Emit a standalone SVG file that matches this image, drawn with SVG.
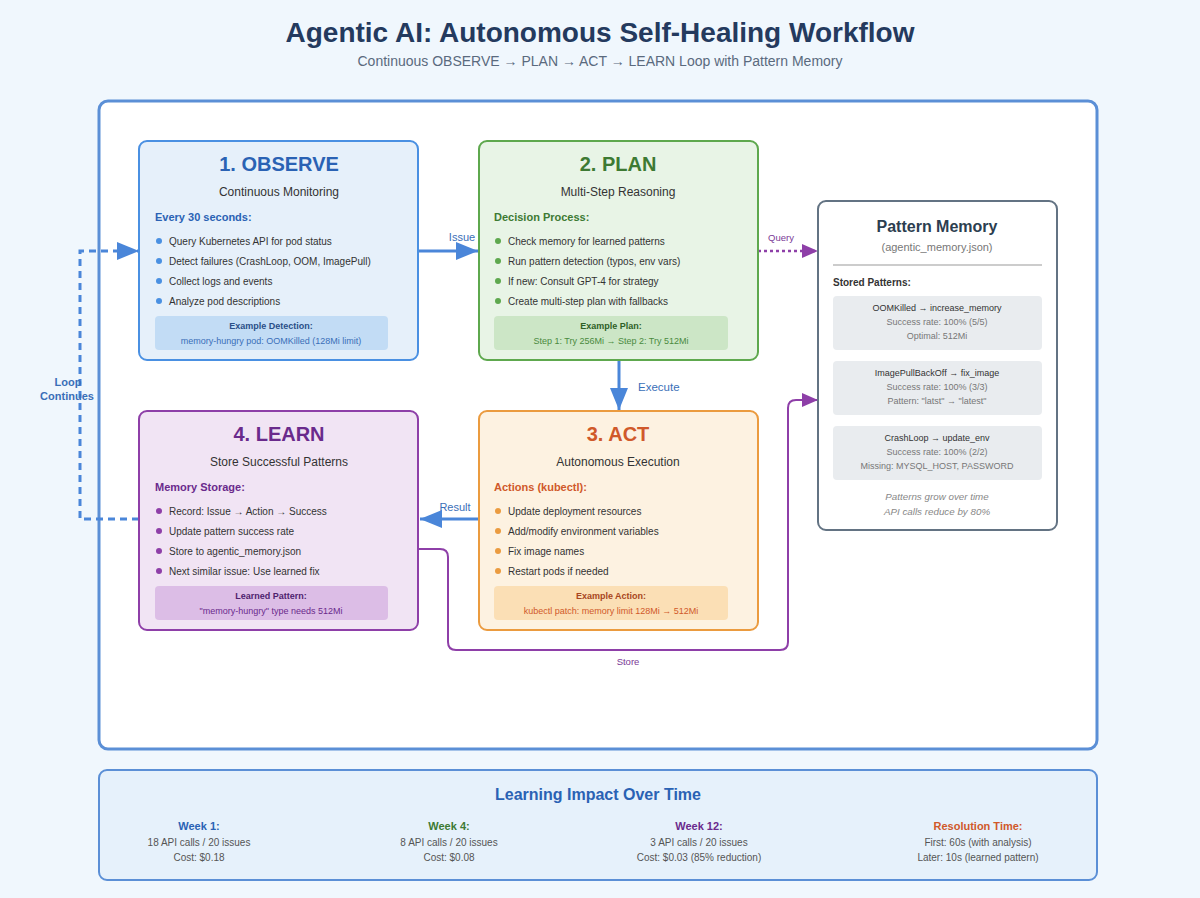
<svg xmlns="http://www.w3.org/2000/svg" width="1200" height="898" viewBox="0 0 1200 898">
<defs>
<style>
text{font-family:"Liberation Sans",Arial,sans-serif}
.c{text-anchor:middle}
.ttl{font-size:20px;font-weight:bold}
.sub{font-size:12px;fill:#333}
.hdr{font-size:11px;font-weight:bold}
.li{font-size:10px;fill:#333}
.exh{font-size:9px;font-weight:bold}
.ext{font-size:9px}
.pm1{font-size:9px;fill:#333}
.pm2{font-size:9px;fill:#777}
.bh{font-size:11px;font-weight:bold}
.bt{font-size:10px;fill:#555}
</style>
<marker id="ab" markerUnits="userSpaceOnUse" markerWidth="24" markerHeight="20" refX="22" refY="9" orient="auto"><path d="M0,0 L22,9 L0,18 Z" fill="#4a86d9"/></marker>
<marker id="ap" markerUnits="userSpaceOnUse" markerWidth="18" markerHeight="16" refX="16" refY="7" orient="auto"><path d="M0,0 L16,7 L0,14 Z" fill="#8e3fa8"/></marker>
</defs>
<rect width="1200" height="898" fill="#f0f7fd"/>
<text class="c" x="600" y="42" style="font-size:28px;font-weight:bold" fill="#243a5e">Agentic AI: Autonomous Self-Healing Workflow</text>
<text class="c" x="600" y="66" style="font-size:14px" fill="#5a6a7e">Continuous OBSERVE → PLAN → ACT → LEARN Loop with Pattern Memory</text>
<rect x="99" y="101" width="998" height="648" rx="9" fill="#fff" stroke="#5b8fd6" stroke-width="3"/>

<g id="connectors" fill="none">
<path d="M418,251 H478" stroke="#4a86d9" stroke-width="3" marker-end="url(#ab)"/>
<text x="462" y="241" class="c" style="font-size:11px" fill="#3a6fb8" stroke="none">Issue</text>
<path d="M758,251 H818" stroke="#8e3fa8" stroke-width="2.5" stroke-dasharray="3,3" marker-end="url(#ap)"/>
<text x="781" y="241" class="c" style="font-size:9.5px" fill="#7a3a96" stroke="none">Query</text>
<path d="M619,360 V410" stroke="#4a86d9" stroke-width="3" marker-end="url(#ab)"/>
<text x="638" y="391" style="font-size:11.5px" fill="#3a6fb8" stroke="none">Execute</text>
<path d="M478,519 H420" stroke="#4a86d9" stroke-width="3" marker-end="url(#ab)"/>
<text x="455" y="511" class="c" style="font-size:11px" fill="#3a6fb8" stroke="none">Result</text>
<path d="M418,549 H440 Q448,549 448,557 V642 Q448,650 456,650 H780 Q788,650 788,642 V408 Q788,400 796,400 H818" stroke="#8e3fa8" stroke-width="2" marker-end="url(#ap)"/>
<text x="628" y="665" class="c" style="font-size:9.5px" fill="#7a3a96" stroke="none">Store</text>
<path d="M139,519 H80 V251 H139" stroke="#4a86d9" stroke-width="3" stroke-dasharray="7,5" marker-end="url(#ab)"/>
<text x="68" y="386" class="c" style="font-size:11px;font-weight:bold" fill="#3a6fb8" stroke="none">Loop</text>
<text x="67" y="400" class="c" style="font-size:11px;font-weight:bold" fill="#3a6fb8" stroke="none">Continues</text>
</g>

<g id="observe">
<rect x="139" y="141" width="279" height="219" rx="8" fill="#e6f0fa" stroke="#4a90e2" stroke-width="2"/>
<text class="c ttl" x="279" y="171" fill="#2a62b4">1. OBSERVE</text>
<text class="c sub" x="279" y="196">Continuous Monitoring</text>
<text class="hdr" x="155" y="221" fill="#2a62b4">Every 30 seconds:</text>
<g fill="#4a90e2"><circle cx="159" cy="241" r="3"/><circle cx="159" cy="261" r="3"/><circle cx="159" cy="281" r="3"/><circle cx="159" cy="301" r="3"/></g>
<text class="li" x="169" y="245">Query Kubernetes API for pod status</text>
<text class="li" x="169" y="265">Detect failures (CrashLoop, OOM, ImagePull)</text>
<text class="li" x="169" y="285">Collect logs and events</text>
<text class="li" x="169" y="305">Analyze pod descriptions</text>
<rect x="155" y="316" width="233" height="34" rx="4" fill="#c2dcf5"/>
<text class="c exh" x="271" y="329" fill="#2a4f88">Example Detection:</text>
<text class="c ext" x="271" y="344" fill="#3a6fb8">memory-hungry pod: OOMKilled (128Mi limit)</text>
</g>

<g id="plan">
<rect x="479" y="141" width="279" height="219" rx="8" fill="#e8f4e6" stroke="#5ea84e" stroke-width="2"/>
<text class="c ttl" x="618" y="171" fill="#3d7a33">2. PLAN</text>
<text class="c sub" x="618" y="196">Multi-Step Reasoning</text>
<text class="hdr" x="494" y="221" fill="#3d7a33">Decision Process:</text>
<g fill="#5ea84e"><circle cx="498" cy="241" r="3"/><circle cx="498" cy="261" r="3"/><circle cx="498" cy="281" r="3"/><circle cx="498" cy="301" r="3"/></g>
<text class="li" x="508" y="245">Check memory for learned patterns</text>
<text class="li" x="508" y="265">Run pattern detection (typos, env vars)</text>
<text class="li" x="508" y="285">If new: Consult GPT-4 for strategy</text>
<text class="li" x="508" y="305">Create multi-step plan with fallbacks</text>
<rect x="494" y="316" width="234" height="34" rx="4" fill="#cce6c6"/>
<text class="c exh" x="611" y="329" fill="#2f5f27">Example Plan:</text>
<text class="c ext" x="611" y="344" fill="#4a8a3e">Step 1: Try 256Mi → Step 2: Try 512Mi</text>
</g>

<g id="memory">
<rect x="818" y="201" width="239" height="329" rx="8" fill="#fff" stroke="#637383" stroke-width="2"/>
<text class="c" x="937" y="232" style="font-size:16px;font-weight:bold" fill="#2c3e50">Pattern Memory</text>
<text class="c" x="937" y="251" style="font-size:11px" fill="#777">(agentic_memory.json)</text>
<line x1="833" y1="265" x2="1042" y2="265" stroke="#bbb" stroke-width="1.5"/>
<text x="833" y="286" style="font-size:10px;font-weight:bold" fill="#333">Stored Patterns:</text>
<rect x="833" y="296" width="209" height="54" rx="4" fill="#e9ecef"/>
<text class="c pm1" x="937" y="311">OOMKilled → increase_memory</text>
<text class="c pm2" x="937" y="325">Success rate: 100% (5/5)</text>
<text class="c pm2" x="937" y="339">Optimal: 512Mi</text>
<rect x="833" y="361" width="209" height="54" rx="4" fill="#e9ecef"/>
<text class="c pm1" x="937" y="376">ImagePullBackOff → fix_image</text>
<text class="c pm2" x="937" y="390">Success rate: 100% (3/3)</text>
<text class="c pm2" x="937" y="404">Pattern: "latst" → "latest"</text>
<rect x="833" y="426" width="209" height="54" rx="4" fill="#e9ecef"/>
<text class="c pm1" x="937" y="441">CrashLoop → update_env</text>
<text class="c pm2" x="937" y="455">Success rate: 100% (2/2)</text>
<text class="c pm2" x="937" y="469">Missing: MYSQL_HOST, PASSWORD</text>
<text class="c" x="937" y="500" style="font-size:9.8px;font-style:italic" fill="#888">Patterns grow over time</text>
<text class="c" x="937" y="515" style="font-size:9.8px;font-style:italic" fill="#888">API calls reduce by 80%</text>
</g>

<g id="learn">
<rect x="139" y="411" width="279" height="219" rx="8" fill="#f1e4f4" stroke="#8e3fa8" stroke-width="2"/>
<text class="c ttl" x="279" y="441" fill="#6a2a8c">4. LEARN</text>
<text class="c sub" x="279" y="466">Store Successful Patterns</text>
<text class="hdr" x="155" y="491" fill="#6a2a8c">Memory Storage:</text>
<g fill="#8e3fa8"><circle cx="159" cy="511" r="3"/><circle cx="159" cy="531" r="3"/><circle cx="159" cy="551" r="3"/><circle cx="159" cy="571" r="3"/></g>
<text class="li" x="169" y="515">Record: Issue → Action → Success</text>
<text class="li" x="169" y="535">Update pattern success rate</text>
<text class="li" x="169" y="555">Store to agentic_memory.json</text>
<text class="li" x="169" y="575">Next similar issue: Use learned fix</text>
<rect x="155" y="586" width="233" height="34" rx="4" fill="#dcbde6"/>
<text class="c exh" x="271" y="599" fill="#4f1f6e">Learned Pattern:</text>
<text class="c ext" x="271" y="614" fill="#6a2a8c">"memory-hungry" type needs 512Mi</text>
</g>

<g id="act">
<rect x="479" y="411" width="279" height="219" rx="8" fill="#fdf2e1" stroke="#eb9b3f" stroke-width="2"/>
<text class="c ttl" x="618" y="441" fill="#d0592a">3. ACT</text>
<text class="c sub" x="618" y="466">Autonomous Execution</text>
<text class="hdr" x="494" y="491" fill="#d0592a">Actions (kubectl):</text>
<g fill="#eb9b3f"><circle cx="498" cy="511" r="3"/><circle cx="498" cy="531" r="3"/><circle cx="498" cy="551" r="3"/><circle cx="498" cy="571" r="3"/></g>
<text class="li" x="508" y="515">Update deployment resources</text>
<text class="li" x="508" y="535">Add/modify environment variables</text>
<text class="li" x="508" y="555">Fix image names</text>
<text class="li" x="508" y="575">Restart pods if needed</text>
<rect x="494" y="586" width="234" height="34" rx="4" fill="#fbdfb5"/>
<text class="c exh" x="611" y="599" fill="#a8461e">Example Action:</text>
<text class="c ext" x="611" y="614" fill="#d0592a">kubectl patch: memory limit 128Mi → 512Mi</text>
</g>

<g id="impact">
<rect x="99" y="770" width="998" height="110" rx="8" fill="#e6f1fb" stroke="#5b8fd6" stroke-width="2"/>
<text class="c" x="598" y="800" style="font-size:16px;font-weight:bold" fill="#2a62b4">Learning Impact Over Time</text>
<text class="c bh" x="199" y="830" fill="#2a62b4">Week 1:</text>
<text class="c bt" x="199" y="846">18 API calls / 20 issues</text>
<text class="c bt" x="199" y="861">Cost: $0.18</text>
<text class="c bh" x="449" y="830" fill="#3d7a33">Week 4:</text>
<text class="c bt" x="449" y="846">8 API calls / 20 issues</text>
<text class="c bt" x="449" y="861">Cost: $0.08</text>
<text class="c bh" x="699" y="830" fill="#6a2a8c">Week 12:</text>
<text class="c bt" x="699" y="846">3 API calls / 20 issues</text>
<text class="c bt" x="699" y="861">Cost: $0.03 (85% reduction)</text>
<text class="c bh" x="978" y="830" fill="#d0592a">Resolution Time:</text>
<text class="c bt" x="978" y="846">First: 60s (with analysis)</text>
<text class="c bt" x="978" y="861">Later: 10s (learned pattern)</text>
</g>
</svg>
